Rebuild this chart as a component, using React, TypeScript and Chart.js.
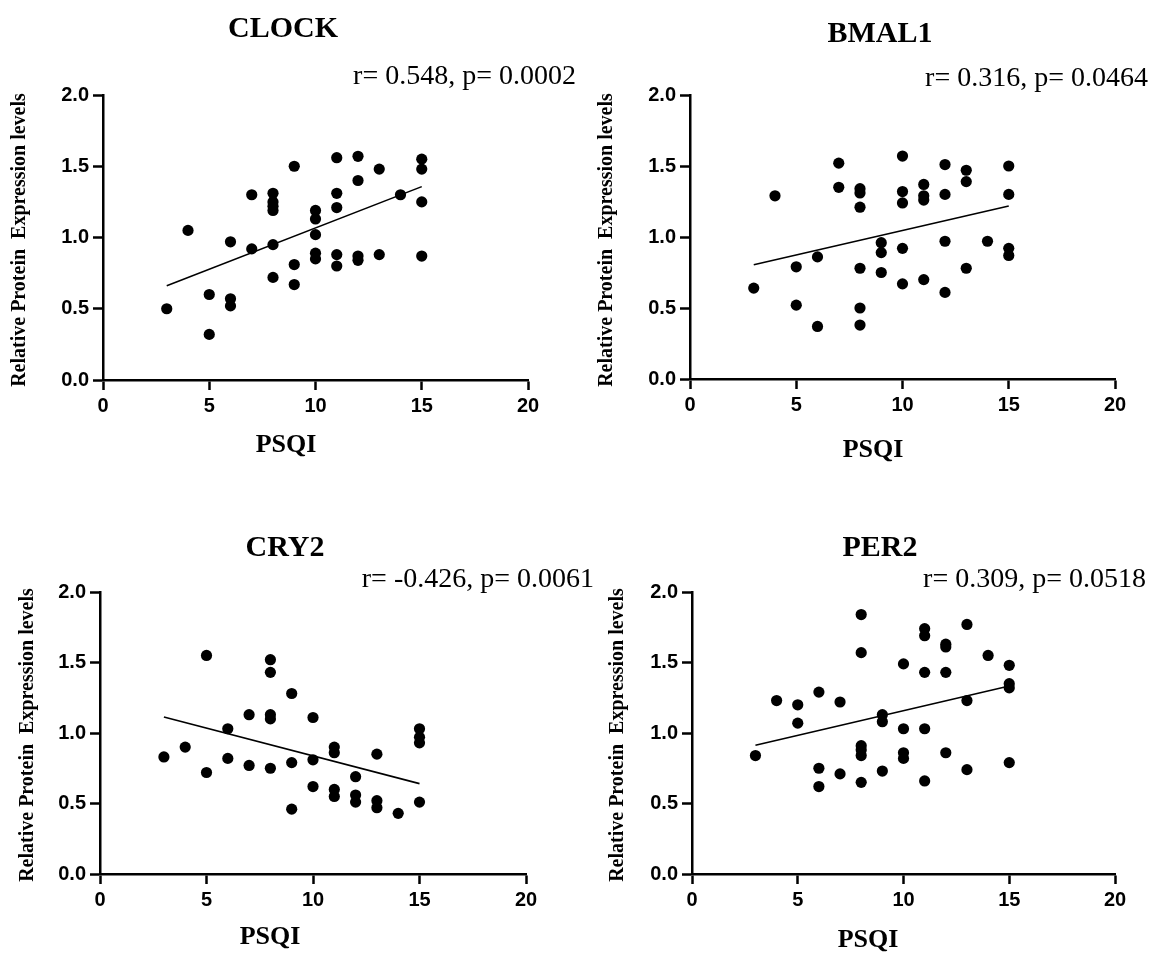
import React, { useEffect, useRef } from 'react';
import { Chart, registerables } from 'chart.js';

Chart.register(...registerables);

// ---------- data ----------
const clockPSQI = [3, 4, 5, 5, 6, 6, 6, 7, 7, 8, 8, 8, 8, 8, 8, 9, 9, 9, 10, 10, 10, 10, 10, 11, 11, 11, 11, 11, 12, 12, 12, 12, 13, 13, 14, 15, 15, 15, 15];
const clockLevels = [0.50, 1.05, 0.60, 0.32, 0.97, 0.57, 0.52, 1.30, 0.92, 1.31, 1.25, 1.22, 1.19, 0.95, 0.72, 1.50, 0.81, 0.67, 1.19, 1.13, 1.02, 0.89, 0.85, 1.56, 1.31, 1.21, 0.88, 0.80, 1.57, 1.40, 0.87, 0.84, 1.48, 0.88, 1.30, 1.55, 1.48, 1.25, 0.87];
const clockFitX = [3, 15];
const clockFitY = [0.662, 1.357];

const bmal1PSQI = [3, 4, 5, 5, 6, 6, 7, 7, 8, 8, 8, 8, 8, 8, 9, 9, 9, 10, 10, 10, 10, 10, 11, 11, 11, 11, 12, 12, 12, 12, 13, 13, 13, 14, 15, 15, 15, 15];
const bmal1Levels = [0.64, 1.29, 0.79, 0.52, 0.86, 0.37, 1.52, 1.35, 1.34, 1.31, 1.21, 0.78, 0.50, 0.38, 0.96, 0.89, 0.75, 1.57, 1.32, 1.24, 0.92, 0.67, 1.37, 1.29, 1.26, 0.70, 1.51, 1.30, 0.97, 0.61, 1.47, 1.39, 0.78, 0.97, 1.50, 1.30, 0.92, 0.87];
const bmal1FitX = [3, 15];
const bmal1FitY = [0.805, 1.218];

const cry2PSQI = [3, 4, 5, 5, 6, 6, 7, 7, 8, 8, 8, 8, 8, 9, 9, 9, 10, 10, 10, 11, 11, 11, 11, 12, 12, 12, 13, 13, 13, 14, 15, 15, 15, 15];
const cry2Levels = [0.83, 0.90, 1.55, 0.72, 1.03, 0.82, 1.13, 0.77, 1.52, 1.43, 1.13, 1.10, 0.75, 1.28, 0.79, 0.46, 1.11, 0.81, 0.62, 0.90, 0.86, 0.60, 0.55, 0.69, 0.56, 0.51, 0.85, 0.52, 0.47, 0.43, 1.03, 0.97, 0.93, 0.51];
const cry2FitX = [3, 15];
const cry2FitY = [1.113, 0.641];

const per2PSQI = [3, 4, 5, 5, 6, 6, 6, 7, 7, 8, 8, 8, 8, 8, 8, 9, 9, 9, 10, 10, 10, 10, 11, 11, 11, 11, 11, 12, 12, 12, 12, 13, 13, 13, 14, 15, 15, 15, 15];
const per2Levels = [0.84, 1.23, 1.20, 1.07, 1.29, 0.75, 0.62, 1.22, 0.71, 1.84, 1.57, 0.91, 0.88, 0.84, 0.65, 1.13, 1.08, 0.73, 1.49, 1.03, 0.86, 0.82, 1.74, 1.69, 1.43, 1.03, 0.66, 1.63, 1.61, 1.43, 0.86, 1.77, 1.23, 0.74, 1.55, 1.48, 1.35, 1.32, 0.79];
const per2FitX = [3, 15];
const per2FitY = [0.913, 1.333];

const panelTitles = ['CLOCK', 'BMAL1', 'CRY2', 'PER2'];
const panelStats = ['r= 0.548, p= 0.0002', 'r= 0.316, p= 0.0464', 'r= -0.426, p= 0.0061', 'r= 0.309, p= 0.0518'];
const xTickLabels = ['0', '5', '10', '15', '20'];
const yTickLabels = ['0.0', '0.5', '1.0', '1.5', '2.0'];
const yAxisTitle = 'Relative Protein  Expression levels';
const xAxisTitle = 'PSQI';

// ---------- layout (pixels) ----------
type Layout = {
  box: { left: number; top: number; width: number; height: number };
  area: { left: number; right: number; top: number; bottom: number };
  titlePos: [number, number];
  statPos: [number, number];
  yTitlePos: [number, number];
  xTitlePos: [number, number];
};

const layouts: Layout[] = [
  {
    box: { left: 0, top: 0, width: 600, height: 477 },
    area: { left: 103, right: 528, top: 95, bottom: 380 },
    titlePos: [283, 29], statPos: [576, 84], yTitlePos: [20, 240], xTitlePos: [286, 445],
  },
  {
    box: { left: 580, top: 0, width: 577, height: 477 },
    area: { left: 110, right: 535, top: 95, bottom: 379 },
    titlePos: [300, 34], statPos: [568, 86], yTitlePos: [27, 240], xTitlePos: [293, 450],
  },
  {
    box: { left: 0, top: 477, width: 600, height: 477 },
    area: { left: 100, right: 526, top: 115, bottom: 397 },
    titlePos: [285, 71], statPos: [594, 110], yTitlePos: [28, 258], xTitlePos: [270, 460],
  },
  {
    box: { left: 580, top: 477, width: 577, height: 477 },
    area: { left: 112, right: 535, top: 115, bottom: 397 },
    titlePos: [300, 71], statPos: [566, 110], yTitlePos: [38, 258], xTitlePos: [288, 463],
  },
];

const seriesX = [clockPSQI, bmal1PSQI, cry2PSQI, per2PSQI];
const seriesY = [clockLevels, bmal1Levels, cry2Levels, per2Levels];
const fitXs = [clockFitX, bmal1FitX, cry2FitX, per2FitX];
const fitYs = [clockFitY, bmal1FitY, cry2FitY, per2FitY];

const SERIF = '"Liberation Serif", "Times New Roman", serif';
const SANS = '"Liberation Sans", Arial, sans-serif';

function makeTextPlugin(title: string, stat: string, lay: Layout) {
  return {
    id: 'panelText',
    afterDraw(chart: any) {
      const ctx: CanvasRenderingContext2D = chart.ctx;
      ctx.save();
      ctx.fillStyle = '#000';
      ctx.textAlign = 'center';
      ctx.textBaseline = 'middle';
      ctx.font = `bold 30px ${SERIF}`;
      ctx.fillText(title, lay.titlePos[0], lay.titlePos[1]);

      ctx.textAlign = 'right';
      ctx.textBaseline = 'alphabetic';
      ctx.font = `28px ${SERIF}`;
      ctx.fillText(stat, lay.statPos[0], lay.statPos[1]);

      ctx.textAlign = 'center';
      ctx.textBaseline = 'middle';
      ctx.font = `bold 26px ${SERIF}`;
      ctx.fillText(xAxisTitle, lay.xTitlePos[0], lay.xTitlePos[1]);

      ctx.translate(lay.yTitlePos[0], lay.yTitlePos[1]);
      ctx.rotate(-Math.PI / 2);
      ctx.font = `bold 20px ${SERIF}`;
      ctx.fillText(yAxisTitle, 0, 0);
      ctx.restore();
    },
  };
}

function Panel({ index }: { index: number }) {
  const ref = useRef<HTMLCanvasElement | null>(null);
  const lay = layouts[index];

  useEffect(() => {
    if (!ref.current) return;
    const xs = seriesX[index];
    const ys = seriesY[index];
    const points = xs.map((x, i) => ({ x, y: ys[i] }));
    const fit = fitXs[index].map((x, i) => ({ x, y: fitYs[index][i] }));

    const axisCommon = {
      grid: {
        drawOnChartArea: false,
        drawTicks: true,
        tickLength: 10,
        tickWidth: 2.5,
        tickColor: '#000',
      },
      border: { display: true, color: '#000', width: 2.5 },
    };

    const chart = new Chart(ref.current, {
      type: 'scatter',
      data: {
        datasets: [
          {
            data: fit,
            showLine: true,
            borderColor: '#000',
            borderWidth: 1.6,
            pointRadius: 0,
            pointHoverRadius: 0,
          } as any,
          {
            data: points,
            pointRadius: 5.6,
            pointBackgroundColor: '#000',
            pointBorderWidth: 0,
            backgroundColor: '#000',
            borderColor: '#000',
          } as any,
        ],
      },
      options: {
        animation: false,
        responsive: false,
        layout: {
          padding: {
            left: 0,
            top: lay.area.top,
            right: lay.box.width - lay.area.right,
            bottom: 0,
          },
        },
        plugins: {
          legend: { display: false },
          tooltip: { enabled: false },
          title: { display: false },
        },
        scales: {
          x: {
            type: 'linear',
            min: 0,
            max: 20,
            ...axisCommon,
            ticks: {
              stepSize: 5,
              autoSkip: false,
              maxRotation: 0,
              padding: 4,
              color: '#000',
              font: { family: SANS, weight: 'bold', size: 20 },
              callback: (v: any) => xTickLabels[Math.round(Number(v) / 5)] ?? '',
            },
            afterFit: (s: any) => {
              s.height = lay.box.height - lay.area.bottom;
            },
          },
          y: {
            type: 'linear',
            min: 0,
            max: 2,
            ...axisCommon,
            ticks: {
              stepSize: 0.5,
              autoSkip: false,
              padding: 4,
              color: '#000',
              font: { family: SANS, weight: 'bold', size: 20 },
              callback: (v: any) => yTickLabels[Math.round(Number(v) / 0.5)] ?? '',
            },
            afterFit: (s: any) => {
              s.width = lay.area.left;
            },
          },
        },
      } as any,
      plugins: [makeTextPlugin(panelTitles[index], panelStats[index], lay)],
    });
    return () => chart.destroy();
  }, [index]);

  return (
    <canvas
      ref={ref}
      width={lay.box.width}
      height={lay.box.height}
      style={{
        position: 'absolute',
        left: lay.box.left,
        top: lay.box.top,
        width: lay.box.width,
        height: lay.box.height,
      }}
    />
  );
}

export default function App() {
  return (
    <div
      style={{
        position: 'absolute',
        left: 0,
        top: 0,
        width: 1157,
        height: 954,
        background: '#fff',
        overflow: 'hidden',
      }}
    >
      {[0, 1, 2, 3].map((i) => (
        <Panel key={i} index={i} />
      ))}
    </div>
  );
}
